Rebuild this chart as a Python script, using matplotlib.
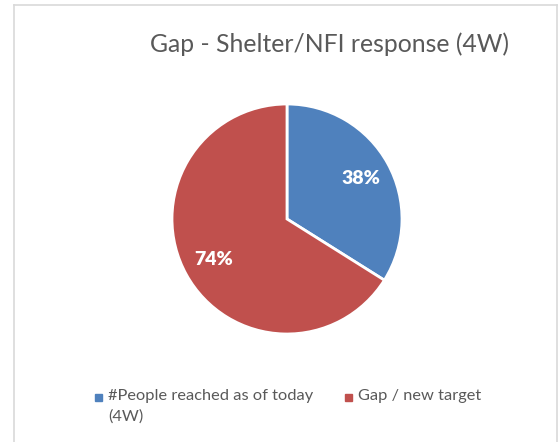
import matplotlib
matplotlib.use("Agg")
import matplotlib.pyplot as plt
from matplotlib.patches import Rectangle
from matplotlib.lines import Line2D

categories = ["#People reached as of today\n(4W)", "Gap / new target"]
values = [38, 74]
colors = ["#4F81BD", "#C0504D"]
title = "Gap - Shelter/NFI response (4W)"

W, H = 559, 442
fig = plt.figure(figsize=(W / 100, H / 100), dpi=100)
fig.patch.set_facecolor("white")

# chart border
fig.add_artist(Line2D([14 / W, 14 / W], [0, 1 - 5 / H], color="#D9D9D9", lw=1.2))
fig.add_artist(Line2D([14 / W, 557 / W], [1 - 5 / H, 1 - 5 / H], color="#D9D9D9", lw=1.2))
fig.add_artist(Line2D([557 / W, 557 / W], [0, 1 - 5 / H], color="#D9D9D9", lw=1.2))

cx, cy, r = 287, 219, 115
ax = fig.add_axes([(cx - r) / W, (H - cy - r) / H, 2 * r / W, 2 * r / H])
total = sum(values)
wedges, texts, autotexts = ax.pie(
    values, colors=colors, startangle=90, counterclock=False,
    autopct=lambda p: f"{round(p * total / 100)}%", pctdistance=0.73,
    wedgeprops=dict(edgecolor="white", linewidth=2),
    textprops=dict(color="white", fontsize=14, fontweight="heavy", family="Lato"),
)
ax.set_aspect("equal")
ax.set_xlim(-1, 1)
ax.set_ylim(-1, 1)

fig.text(330 / W, 1 - 44 / H, title, ha="center", va="center",
         fontsize=17.8, color="#595959", family="Lato")

# legend
fs = 11.8
fig.add_artist(Rectangle((95 / W, 1 - 401 / H), 7 / W, 7 / H, color=colors[0],
                         transform=fig.transFigure))
fig.text(108 / W, 1 - 389 / H, categories[0], ha="left", va="top",
         fontsize=fs, color="#595959", family="Lato", linespacing=1.55)
fig.add_artist(Rectangle((345 / W, 1 - 401 / H), 7 / W, 7 / H, color=colors[1],
                         transform=fig.transFigure))
fig.text(358 / W, 1 - 389 / H, categories[1], ha="left", va="top",
         fontsize=fs, color="#595959", family="Lato")

fig.savefig("out.png", dpi=100, facecolor="white")
